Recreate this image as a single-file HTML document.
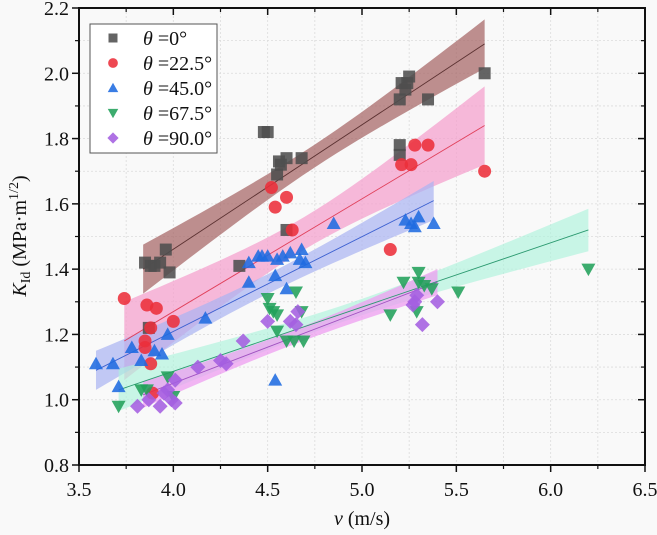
<!DOCTYPE html>
<html><head><meta charset="utf-8"><style>
html,body{margin:0;padding:0;background:#f9f9f9;}
svg{display:block;}
svg text{font-family:"Liberation Serif","DejaVu Serif",serif;}
</style></head><body>
<svg id="chart" width="657" height="535" viewBox="0 0 657 535" xmlns="http://www.w3.org/2000/svg" font-family="Liberation Serif, DejaVu Serif, serif">
<rect x="0" y="0" width="657" height="535" fill="#f9f9f9"/>
<g id="grid"></g>
<g id="bands"></g>
<g id="fits"></g>
<g id="points"></g>
<g id="axes"></g>
<g id="legend"></g>
</svg>
<script>
const xTicks=[3.5,4.0,4.5,5.0,5.5,6.0,6.5];
const xTickLabels=["3.5","4.0","4.5","5.0","5.5","6.0","6.5"];
const yTicks=[0.8,1.0,1.2,1.4,1.6,1.8,2.0,2.2];
const yTickLabels=["0.8","1.0","1.2","1.4","1.6","1.8","2.0","2.2"];
const seriesNames=["\u03b8 =0\u00b0","\u03b8 =22.5\u00b0","\u03b8 =45.0\u00b0","\u03b8 =67.5\u00b0","\u03b8 =90.0\u00b0"];
const s0x=[3.85,3.88,3.9,3.93,3.96,3.98,4.35,4.48,4.5,4.55,4.56,4.57,4.6,4.68,4.6,3.87,5.2,5.2,5.2,5.21,5.23,5.24,5.25,5.35,5.65];
const s0y=[1.42,1.41,1.41,1.42,1.46,1.39,1.41,1.82,1.82,1.69,1.73,1.72,1.74,1.74,1.52,1.22,1.78,1.75,1.92,1.97,1.95,1.97,1.99,1.92,2.0];
const s1x=[3.74,3.86,3.91,3.88,3.85,3.85,3.88,4.0,3.89,4.52,4.54,4.6,4.63,5.15,5.21,5.26,5.28,5.35,5.65];
const s1y=[1.31,1.29,1.28,1.22,1.18,1.16,1.11,1.24,1.02,1.65,1.59,1.62,1.52,1.46,1.72,1.72,1.78,1.78,1.70];
const s2x=[3.59,3.68,3.71,3.78,3.83,3.9,3.94,3.97,4.17,4.4,4.54,4.6,4.4,4.45,4.47,4.5,4.55,4.58,4.62,4.67,4.68,4.7,4.85,4.54,5.23,5.26,5.28,5.3,5.38];
const s2y=[1.11,1.11,1.04,1.16,1.12,1.15,1.14,1.20,1.25,1.36,1.38,1.34,1.42,1.44,1.44,1.44,1.43,1.44,1.45,1.43,1.46,1.42,1.54,1.06,1.55,1.54,1.53,1.56,1.54];
const s3x=[3.71,3.83,3.86,3.97,4.0,4.5,4.51,4.53,4.55,4.55,4.65,4.68,4.6,4.64,4.69,5.15,5.22,5.3,5.3,5.33,5.37,5.29,5.51,6.2];
const s3y=[0.98,1.03,1.03,1.07,1.01,1.31,1.28,1.27,1.26,1.21,1.33,1.27,1.18,1.18,1.18,1.26,1.36,1.39,1.36,1.35,1.34,1.27,1.33,1.40];
const s4x=[3.81,3.87,3.93,3.95,3.97,3.99,4.01,4.01,4.13,4.25,4.28,4.37,4.5,4.62,4.66,4.65,5.27,5.29,5.32,5.4,5.28];
const s4y=[0.98,1.0,0.98,1.02,1.03,1.0,0.99,1.06,1.1,1.12,1.11,1.18,1.24,1.24,1.27,1.23,1.29,1.32,1.23,1.30,1.30];
const fitX0=[3.84,3.74,3.59,3.71,3.84];
const fitX1=[5.65,5.65,5.38,6.2,5.4];
const fitY0=[1.40,1.18,1.09,1.03,1.015];
const fitY1=[2.09,1.84,1.61,1.52,1.36];
const bandEnd=[0.075,0.12,0.06,0.065,0.04];
const bandMid=[0.035,0.05,0.03,0.025,0.022];

const L=79,R=645,T=8,B=465;
const X=v=>L+(v-3.5)/3.0*(R-L);
const Y=v=>B-(v-0.8)/1.4*(B-T);
const NS="http://www.w3.org/2000/svg";
const FF="Liberation Serif, DejaVu Serif, serif";
function mk(tag,attrs,parent){const e=document.createElementNS(NS,tag);for(const k in attrs)e.setAttribute(k,attrs[k]);parent.appendChild(e);return e;}

const grid=document.getElementById('grid');
for(let v=3.75;v<6.5;v+=0.25){const g=mk('line',{x1:X(v),x2:X(v),y1:T,y2:B,stroke:'#dcdcdc','stroke-width':0.8,'stroke-dasharray':'2,2'},grid);

}
for(let v=0.9;v<2.2;v+=0.1){const g=mk('line',{x1:L,x2:R,y1:Y(v),y2:Y(v),stroke:'#dcdcdc','stroke-width':0.8,'stroke-dasharray':'2,2'},grid);

}

const bandFill=['#a86a6a','#f59ccc','#a9b3f2','#aef3dc','#ee9ef0'];
const bandOp=[0.75,0.7,0.7,0.65,0.75];
const lineCol=['#5a3030','#e0405a','#3a5fd0','#2c9a70','#a050c0'];
const bands=document.getElementById('bands'),fits=document.getElementById('fits');
for(let i=0;i<5;i++){
  const x0=fitX0[i],x1=fitX1[i],xm=(x0+x1)/2,hw=(x1-x0)/2;
  const f=x=>fitY0[i]+(fitY1[i]-fitY0[i])*(x-x0)/(x1-x0);
  const h=x=>{const t=(x-xm)/hw;return Math.sqrt(bandMid[i]**2+(bandEnd[i]**2-bandMid[i]**2)*t*t);};
  let up=[],lo=[];
  for(let k=0;k<=30;k++){const x=x0+(x1-x0)*k/30;up.push(X(x)+','+Y(f(x)+h(x)));lo.unshift(X(x)+','+Y(f(x)-h(x)));}
  const p=mk('polygon',{points:up.concat(lo).join(' '),fill:bandFill[i],'fill-opacity':bandOp[i]},bands);
  
  
  const l=mk('line',{x1:X(x0),y1:Y(fitY0[i]),x2:X(x1),y2:Y(fitY1[i]),stroke:lineCol[i],'stroke-width':0.9},fits);
  
  
}

const ptCol=['#4e4e4e','#ec2f3a','#1f6be0','#21a05a','#a45ee0'];
const pts=document.getElementById('points');
function marker(i,cx,cy,parent,s){
  s=s||1;let e;
  if(i===0)e=mk('rect',{x:cx-6*s,y:cy-6*s,width:12*s,height:12*s},parent);
  else if(i===1)e=mk('circle',{cx:cx,cy:cy,r:6.5*s},parent);
  else if(i===2)e=mk('polygon',{points:`${cx},${cy-7*s} ${cx+7*s},${cy+5.5*s} ${cx-7*s},${cy+5.5*s}`},parent);
  else if(i===3)e=mk('polygon',{points:`${cx},${cy+7*s} ${cx+7*s},${cy-5.5*s} ${cx-7*s},${cy-5.5*s}`},parent);
  else e=mk('polygon',{points:`${cx},${cy-7.5*s} ${cx+7.5*s},${cy} ${cx},${cy+7.5*s} ${cx-7.5*s},${cy}`},parent);
  e.setAttribute('fill',ptCol[i]);e.setAttribute('fill-opacity',0.88);
  return e;
}
const SX=[s0x,s1x,s2x,s3x,s4x],SY=[s0y,s1y,s2y,s3y,s4y];
for(let i=0;i<5;i++)for(let j=0;j<SX[i].length;j++){
  const e=marker(i,X(SX[i][j]),Y(SY[i][j]),pts);
  
  
}

const ax=document.getElementById('axes');
mk('rect',{x:L,y:T,width:R-L,height:B-T,fill:'none',stroke:'#111','stroke-width':2},ax);
for(let k=0;k<xTicks.length;k++){
  const x=X(xTicks[k]);
  mk('line',{x1:x,x2:x,y1:B,y2:B+7,stroke:'#111','stroke-width':1.5},ax);
  mk('line',{x1:x,x2:x,y1:T,y2:T+7,stroke:'#111','stroke-width':1.5},ax);
  const t=mk('text',{x:x,y:B+31,'text-anchor':'middle','font-size':'20px','font-family':FF,fill:'#111'},ax);t.textContent=xTickLabels[k];
  
  
  if(k<xTicks.length-1){const xm=X(xTicks[k]+0.25);
    mk('line',{x1:xm,x2:xm,y1:B,y2:B+4,stroke:'#111','stroke-width':1.2},ax);
    mk('line',{x1:xm,x2:xm,y1:T,y2:T+4,stroke:'#111','stroke-width':1.2},ax);}
}
for(let k=0;k<yTicks.length;k++){
  const y=Y(yTicks[k]);
  mk('line',{x1:L-7,x2:L,y1:y,y2:y,stroke:'#111','stroke-width':1.5},ax);
  mk('line',{x1:R-7,x2:R,y1:y,y2:y,stroke:'#111','stroke-width':1.5},ax);
  const t=mk('text',{x:L-10,y:y+7,'text-anchor':'end','font-size':'20px','font-family':FF,fill:'#111'},ax);t.textContent=yTickLabels[k];
  
  
  if(k<yTicks.length-1){const ym=Y(yTicks[k]+0.1);
    mk('line',{x1:L-4,x2:L,y1:ym,y2:ym,stroke:'#111','stroke-width':1.2},ax);
    mk('line',{x1:R-4,x2:R,y1:ym,y2:ym,stroke:'#111','stroke-width':1.2},ax);}
}
const xt=mk('text',{x:362,y:525,'text-anchor':'middle','font-size':'20px','font-family':FF,fill:'#111'},ax);
xt.innerHTML='<tspan font-style="italic">v</tspan> (m/s)';


const yt=mk('text',{transform:'translate(26,236) rotate(-90)','text-anchor':'middle','font-size':'20px','font-family':FF,fill:'#111'},ax);
yt.innerHTML='<tspan font-style="italic">K</tspan><tspan font-size="14px" dy="4">Id</tspan><tspan dy="-4"> (MPa·m</tspan><tspan font-size="14px" dy="-8">1/2</tspan><tspan dy="8">)</tspan>';



const lg=document.getElementById('legend');
const box=mk('rect',{x:90,y:24,width:127,height:129,fill:'#fff',stroke:'#555','stroke-width':1},lg);


for(let i=0;i<5;i++){
  const y=38+i*25;
  const m=marker(i,113,y,lg,0.75);
  
  
  const t=mk('text',{x:143,y:y+7,'font-size':'20px','font-family':FF,fill:'#111'},lg);
  const parts=seriesNames[i].split(' ');
  t.innerHTML='<tspan font-style="italic">'+parts[0]+'</tspan> '+parts[1];
  
  
}
</script>
</body></html>
